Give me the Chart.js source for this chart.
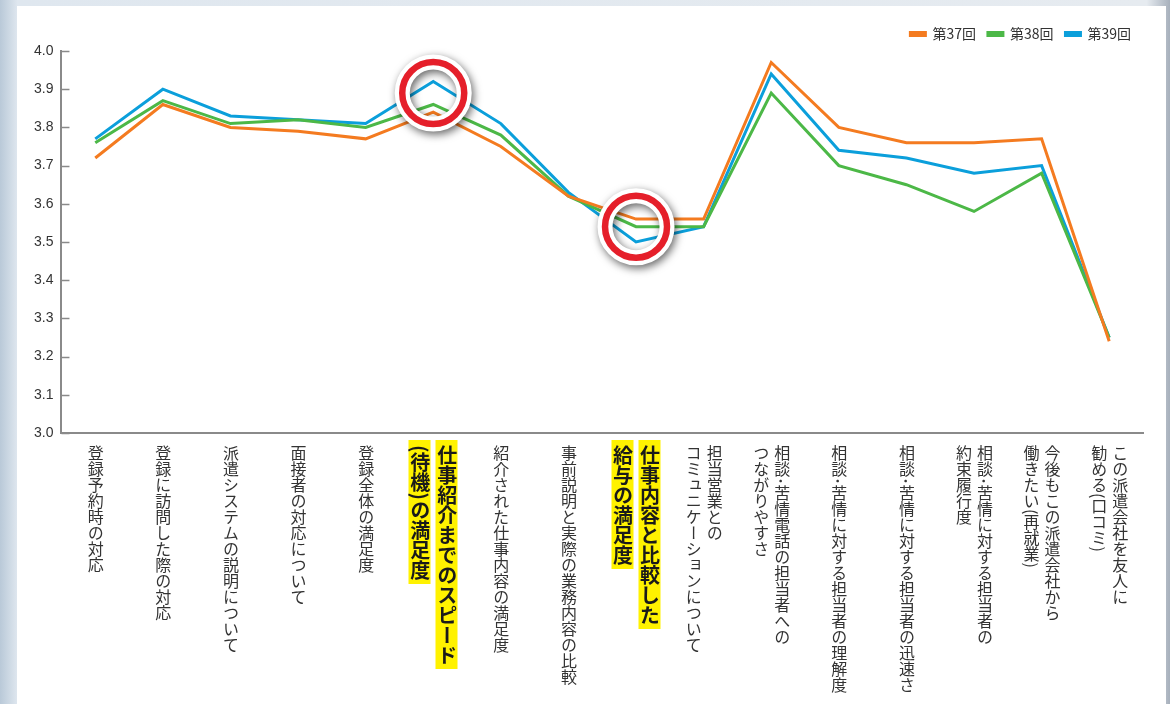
<!DOCTYPE html>
<html lang="ja">
<head>
<meta charset="utf-8">
<script src="https://cdn.jsdelivr.net/npm/chart.js"></script>
<style>
  html, body { margin:0; padding:0; }
  body {
    width:1170px; height:704px; overflow:hidden; position:relative;
    background: linear-gradient(90deg, #b9c9d8 0%, #dfe7ef 1.5%, #e6ebf0 98%, #a7b0bc 100%);
  }
  #panel { position:absolute; left:17px; top:6px; width:1149px; height:698px; background:#fff; }
  #wrap { position:absolute; left:0; top:0; width:1170px; height:704px; }
  #labels { position:absolute; left:0; top:0; width:1170px; height:704px; pointer-events:none; }
  .lbl { position:absolute; top:440px; display:flex; flex-direction:row-reverse; align-items:flex-start; transform:translateX(-50%); }
  .col { writing-mode:vertical-rl; font-family:"Noto Sans CJK JP", sans-serif; color:#333; font-size:16px; line-height:21px; padding-top:5px; white-space:nowrap; }
  .hl { gap:5px; }
  .hl .col { font-size:20px; font-weight:bold; color:#1a1a1a; line-height:22px; background:#fff200; padding:5px 0 4px 0; }
</style>
</head>
<body>
<div id="panel"></div>
<div id="wrap"><canvas id="graph_analysis" width="1170" height="704"></canvas></div>
<div id="labels"></div>
<script>
// categories (columns: first column is the right one)
const categories = [
    ['登録予約時の対応'],
    ['登録に訪問した際の対応'],
    ['派遣システムの説明について'],
    ['面接者の対応について'],
    ['登録全体の満足度'],
    ['仕事紹介までのスピード', '(待機)の満足度'],
    ['紹介された仕事内容の満足度'],
    ['事前説明と実際の業務内容の比較'],
    ['仕事内容と比較した', '給与の満足度'],
    ['担当営業との', 'コミュニケーションについて'],
    ['相談･苦情電話の担当者への', 'つながりやすさ'],
    ['相談･苦情に対する担当者の理解度'],
    ['相談･苦情に対する担当者の迅速さ'],
    ['相談･苦情に対する担当者の', '約束履行度'],
    ['今後もこの派遣会社から', '働きたい(再就業)'],
    ['この派遣会社を友人に', '勧める(口コミ)']
];
const highlighted = [5, 8];

const series37 = [3.72, 3.86, 3.80, 3.79, 3.77, 3.84, 3.75, 3.62, 3.56, 3.56, 3.97, 3.80, 3.76, 3.76, 3.77, 3.24];
const series38 = [3.76, 3.87, 3.81, 3.82, 3.80, 3.86, 3.78, 3.62, 3.54, 3.54, 3.89, 3.70, 3.65, 3.58, 3.68, 3.25];
const series39 = [3.77, 3.90, 3.83, 3.82, 3.81, 3.92, 3.81, 3.63, 3.50, 3.54, 3.94, 3.74, 3.72, 3.68, 3.70, 3.25];

const yTicks = [3.0, 3.1, 3.2, 3.3, 3.4, 3.5, 3.6, 3.7, 3.8, 3.9, 4.0];

// red circles drawn round these points
const circleMarks = [{index:5, value:3.89}, {index:8, value:3.54}];

let graph = document.querySelector('#graph_analysis').getContext('2d');

// inward tick marks on the y axis
const innerTicks = {
    id:'innerTicks',
    afterDraw(chart) {
        const ctx = chart.ctx, y = chart.scales.y, left = chart.chartArea.left;
        ctx.save();
        ctx.strokeStyle = '#8a8a8a';
        ctx.lineWidth = 1.5;
        y.ticks.forEach((t, i) => {
            const py = Math.round(y.getPixelForTick(i)) + 0.5;
            ctx.beginPath();
            ctx.moveTo(left, py);
            ctx.lineTo(left + 8, py);
            ctx.stroke();
        });
        ctx.restore();
    }
};

const redCircles = {
    id:'redCircles',
    afterDatasetsDraw(chart) {
        const ctx = chart.ctx;
        circleMarks.forEach(m => {
            const cx = chart.scales.x.getPixelForValue(m.index);
            const cy = chart.scales.y.getPixelForValue(m.value);
            ctx.save();
            ctx.shadowColor = 'rgba(0,0,0,0.6)';
            ctx.shadowBlur = 9;
            ctx.shadowOffsetX = 2;
            ctx.shadowOffsetY = 3;
            ctx.strokeStyle = '#ffffff';
            ctx.lineWidth = 15;
            ctx.beginPath();
            ctx.arc(cx, cy, 31, 0, Math.PI * 2);
            ctx.stroke();
            ctx.restore();
            ctx.save();
            ctx.strokeStyle = '#e51f2a';
            ctx.lineWidth = 6.5;
            ctx.beginPath();
            ctx.arc(cx, cy, 31, 0, Math.PI * 2);
            ctx.stroke();
            ctx.restore();
        });
    }
};

// vertical japanese labels under the x axis
const verticalLabels = {
    id:'verticalLabels',
    afterRender(chart) {
        const box = document.getElementById('labels');
        if (box.childElementCount) return;
        categories.forEach((cols, i) => {
            const d = document.createElement('div');
            d.className = 'lbl' + (highlighted.includes(i) ? ' hl' : '');
            d.style.left = chart.scales.x.getPixelForTick(i) + 'px';
            cols.forEach(c => {
                const s = document.createElement('div');
                s.className = 'col';
                s.textContent = c;
                d.appendChild(s);
            });
            box.appendChild(d);
        });
    }
};

let myChart = new Chart(graph, {
    type:'line',
    data:{
        labels: categories.map(c => c.join('')),
        datasets:[
            {label:'第37回', data:series37, borderColor:'#f47b20', backgroundColor:'#f47b20'},
            {label:'第38回', data:series38, borderColor:'#4cb847', backgroundColor:'#4cb847'},
            {label:'第39回', data:series39, borderColor:'#0b9fdb', backgroundColor:'#0b9fdb'}
        ]
    },
    options:{
        responsive:false,
        animation:false,
        layout:{ padding:{ left:26, right:27, top:15, bottom:271 } },
        elements:{
            line:{ borderWidth:3, tension:0, borderJoinStyle:'miter' },
            point:{ radius:0, hoverRadius:0 }
        },
        scales:{
            x:{
                offset:true,
                grid:{ display:false, drawTicks:false },
                border:{ color:'#8a8a8a', width:2 },
                ticks:{ display:false }
            },
            y:{
                min:3.0, max:4.0,
                afterBuildTicks(axis) { axis.ticks = yTicks.map(v => ({value:v})); },
                grid:{ drawOnChartArea:false, drawTicks:false },
                border:{ color:'#8a8a8a', width:2 },
                ticks:{
                    padding:8,
                    color:'#333',
                    font:{ family:'"Liberation Sans", Arial, sans-serif', size:14 },
                    callback:(v) => Number(v).toFixed(1)
                }
            }
        },
        plugins:{
            legend:{
                display:true,
                position:'top',
                align:'end',
                labels:{
                    boxWidth:15,
                    boxHeight:3,
                    padding:12,
                    color:'#333',
                    font:{ family:'"Noto Sans CJK JP", sans-serif', size:14 }
                }
            },
            tooltip:{ enabled:false }
        }
    },
    plugins:[innerTicks, redCircles, verticalLabels]
});
</script>
</body>
</html>
